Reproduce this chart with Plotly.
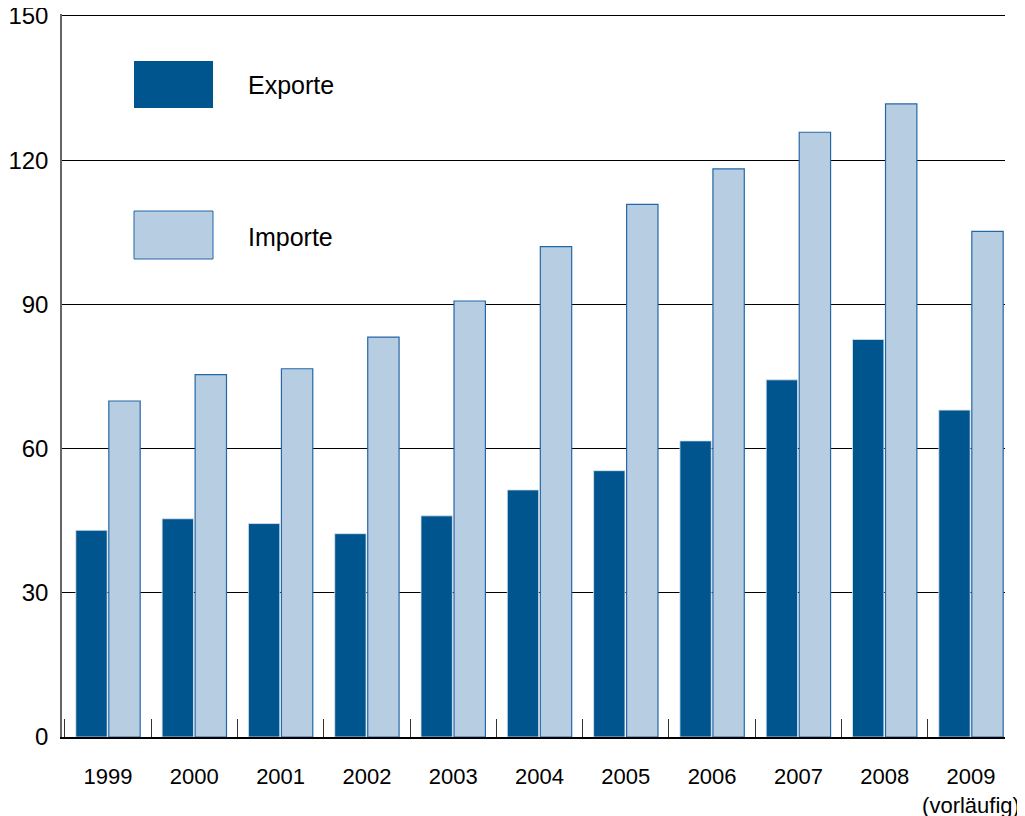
import plotly.graph_objects as go

years = ["1999", "2000", "2001", "2002", "2003", "2004", "2005", "2006", "2007", "2008", "2009"]
year_labels = ["1999", "2000", "2001", "2002", "2003", "2004", "2005", "2006", "2007", "2008", "2009<br>(vorläufig)"]
exporte = [43.0, 45.4, 44.4, 42.3, 46.0, 51.4, 55.4, 61.6, 74.3, 82.7, 68.0]
importe = [69.9, 75.4, 76.6, 83.2, 90.7, 102.0, 110.8, 118.2, 125.8, 131.7, 105.2]
y_ticks = [0, 30, 60, 90, 120, 150]

EXP_COL = "#00558f"
IMP_COL = "#b7cee2"
IMP_LINE = "#2467a8"
FONT = "Liberation Sans, Arial, sans-serif"

fig = go.Figure()
fig.add_trace(go.Bar(x=years, y=exporte, name="Exporte",
                     marker=dict(color=EXP_COL, line=dict(color="#dce6f0", width=0.8))))
fig.add_trace(go.Bar(x=years, y=importe, name="Importe",
                     marker=dict(color=IMP_COL, line=dict(color=IMP_LINE, width=1.2))))

fig.update_layout(
    width=1025, height=816,
    margin=dict(l=54, r=28, t=6, b=87),
    paper_bgcolor="white", plot_bgcolor="white",
    barmode="group", bargap=0.235, bargroupgap=0.05,
    showlegend=False,
    font=dict(family=FONT, color="black"),
)
fig.update_xaxes(
    type="category", range=[-0.533, 10.394], automargin=False,
    tickmode="array", tickvals=years, ticktext=year_labels, tickangle=0,
    tickson="boundaries", ticks="inside", ticklen=18, tickcolor="#333", tickwidth=1,
    showline=True, linecolor="black", linewidth=1.5,
    showgrid=False, tickfont=dict(size=22, family=FONT), ticklabelstandoff=19,
)
fig.update_yaxes(
    range=[0, 150.4], tickmode="array", tickvals=y_ticks, automargin=False,
    showgrid=True, gridcolor="black", gridwidth=1,
    showline=True, linecolor="#666", linewidth=1.5,
    zeroline=False, ticks="", tickfont=dict(size=24, family=FONT),
    ticklabelstandoff=7, ticklabeloverflow="allow",
)

def px_x(p):
    return (p - 62) / 943.0

def px_y(p):
    return (737 - p) / 723.0

# legend swatches
fig.add_shape(type="rect", xref="paper", yref="paper",
              x0=px_x(134), x1=px_x(213), y0=px_y(108), y1=px_y(61),
              fillcolor=EXP_COL, line=dict(width=0))
fig.add_shape(type="rect", xref="paper", yref="paper",
              x0=px_x(134), x1=px_x(213), y0=px_y(259), y1=px_y(211),
              fillcolor=IMP_COL, line=dict(color=IMP_LINE, width=1))
fig.add_annotation(xref="paper", yref="paper", x=px_x(246), y=px_y(85),
                   text="Exporte", showarrow=False, xanchor="left", yanchor="middle",
                   font=dict(size=25, family=FONT, color="black"))
fig.add_annotation(xref="paper", yref="paper", x=px_x(246), y=px_y(237),
                   text="Importe", showarrow=False, xanchor="left", yanchor="middle",
                   font=dict(size=25, family=FONT, color="black"))

fig.write_html("out.html")
